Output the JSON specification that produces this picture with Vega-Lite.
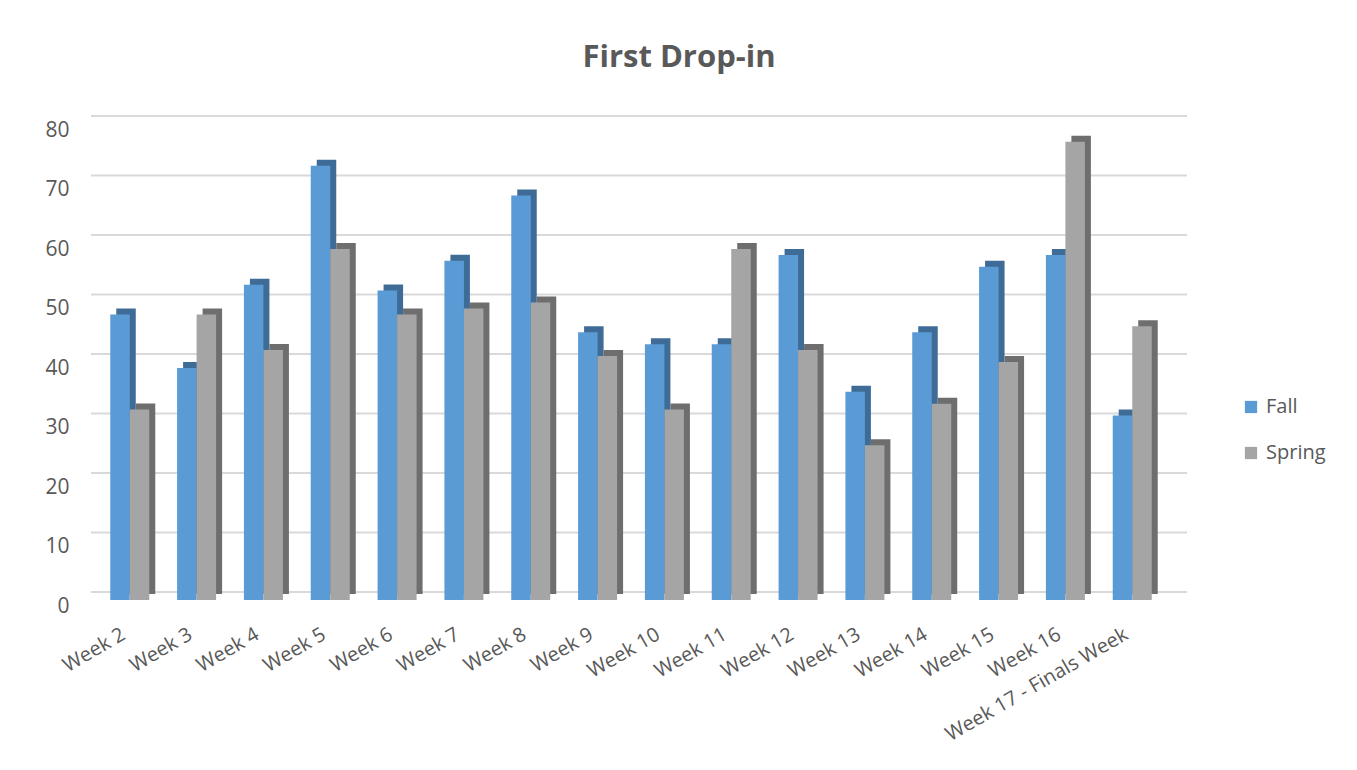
{
  "$schema": "https://vega.github.io/schema/vega-lite/v6.json",
  "width": 1080,
  "height": 476,
  "autosize": {"type": "none"},
  "padding": {"left": 91, "top": 124, "right": 186, "bottom": 170},
  "background": "white",
  "title": {
    "text": "First Drop-in",
    "fontSize": 31,
    "font": "Open Sans",
    "fontWeight": "bold",
    "color": "#595959",
    "anchor": "middle",
    "frame": "group",
    "dx": 48,
    "offset": 41
  },
  "config": {
    "view": {"stroke": null},
    "font": "Open Sans",
    "axis": {"labelColor": "#595959", "labelFont": "Open Sans"}
  },
  "datasets": {
    "bars": [
      {"week": "Week 2", "season": "Fall", "value": 48},
      {"week": "Week 2", "season": "Spring", "value": 32},
      {"week": "Week 3", "season": "Fall", "value": 39},
      {"week": "Week 3", "season": "Spring", "value": 48},
      {"week": "Week 4", "season": "Fall", "value": 53},
      {"week": "Week 4", "season": "Spring", "value": 42},
      {"week": "Week 5", "season": "Fall", "value": 73},
      {"week": "Week 5", "season": "Spring", "value": 59},
      {"week": "Week 6", "season": "Fall", "value": 52},
      {"week": "Week 6", "season": "Spring", "value": 48},
      {"week": "Week 7", "season": "Fall", "value": 57},
      {"week": "Week 7", "season": "Spring", "value": 49},
      {"week": "Week 8", "season": "Fall", "value": 68},
      {"week": "Week 8", "season": "Spring", "value": 50},
      {"week": "Week 9", "season": "Fall", "value": 45},
      {"week": "Week 9", "season": "Spring", "value": 41},
      {"week": "Week 10", "season": "Fall", "value": 43},
      {"week": "Week 10", "season": "Spring", "value": 32},
      {"week": "Week 11", "season": "Fall", "value": 43},
      {"week": "Week 11", "season": "Spring", "value": 59},
      {"week": "Week 12", "season": "Fall", "value": 58},
      {"week": "Week 12", "season": "Spring", "value": 42},
      {"week": "Week 13", "season": "Fall", "value": 35},
      {"week": "Week 13", "season": "Spring", "value": 26},
      {"week": "Week 14", "season": "Fall", "value": 45},
      {"week": "Week 14", "season": "Spring", "value": 33},
      {"week": "Week 15", "season": "Fall", "value": 56},
      {"week": "Week 15", "season": "Spring", "value": 40},
      {"week": "Week 16", "season": "Fall", "value": 58},
      {"week": "Week 16", "season": "Spring", "value": 77},
      {"week": "Week 17 - Finals Week", "season": "Fall", "value": 31},
      {"week": "Week 17 - Finals Week", "season": "Spring", "value": 46}
    ],
    "grid": [
      {"level": 0}, {"level": 10}, {"level": 20}, {"level": 30}, {"level": 40},
      {"level": 50}, {"level": 60}, {"level": 70}, {"level": 80}
    ]
  },
  "data": {"name": "bars"},
  "encoding": {
    "x": {
      "field": "week",
      "type": "nominal",
      "sort": null,
      "title": null,
      "scale": {"paddingInner": 0.42, "paddingOuter": 0.29},
      "axis": {
        "labelAngle": -30,
        "labelAlign": "right",
        "labelBaseline": "top",
        "labelPadding": 24,
        "labelOffset": -11,
        "labelFontSize": 20,
        "labelLimit": 0,
        "ticks": false,
        "domain": false,
        "grid": false
      }
    },
    "y": {
      "field": "value",
      "type": "quantitative",
      "title": null,
      "scale": {"domain": [0, 80]},
      "axis": {
        "values": [0, 10, 20, 30, 40, 50, 60, 70, 80],
        "ticks": false,
        "domain": false,
        "grid": false,
        "labelFontSize": 21,
        "labelPadding": 22,
        "labelOffset": 6
      }
    }
  },
  "layer": [
    {
      "data": {"name": "grid"},
      "mark": {"type": "rule", "color": "#D9D9D9", "strokeWidth": 2, "xOffset": 16, "yOffset": -8},
      "encoding": {
        "x": null,
        "y": {"field": "level", "type": "quantitative"}
      }
    },
    {
      "transform": [{"filter": "datum.season === 'Fall'"}],
      "mark": {"type": "bar", "width": 19.5, "xOffset": -3.75, "yOffset": -6, "color": "#3F6C97"}
    },
    {
      "transform": [{"filter": "datum.season === 'Spring'"}],
      "mark": {"type": "bar", "width": 19.5, "xOffset": 15.75, "yOffset": -6, "color": "#6E6E6E"}
    },
    {
      "transform": [{"filter": "datum.season === 'Fall'"}],
      "mark": {"type": "bar", "width": 19.5, "xOffset": -9.75},
      "encoding": {
        "color": {
          "field": "season",
          "type": "nominal",
          "scale": {"domain": ["Fall", "Spring"], "range": ["#5B9BD5", "#A5A5A5"]},
          "legend": {
            "title": null,
            "orient": "none",
            "legendX": 1150,
            "legendY": 273,
            "symbolType": "square",
            "symbolSize": 150,
            "symbolStrokeWidth": 0,
            "labelFontSize": 20,
            "labelColor": "#595959",
            "rowPadding": 26,
            "labelOffset": 5
          }
        }
      }
    },
    {
      "transform": [{"filter": "datum.season === 'Spring'"}],
      "mark": {"type": "bar", "width": 19.5, "xOffset": 9.75},
      "encoding": {
        "color": {"field": "season", "type": "nominal"}
      }
    }
  ]
}
